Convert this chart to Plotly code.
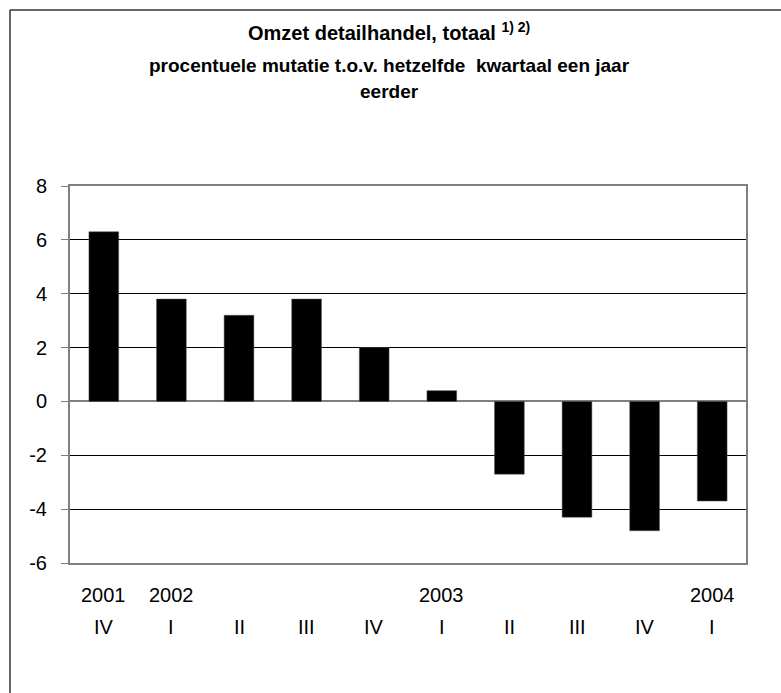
import plotly.graph_objects as go

# Data
categories = ["2001-IV", "2002-I", "2002-II", "2002-III", "2002-IV",
              "2003-I", "2003-II", "2003-III", "2003-IV", "2004-I"]
years = ["2001", "2002", "", "", "", "2003", "", "", "", "2004"]
quarters = ["IV", "I", "II", "III", "IV", "I", "II", "III", "IV", "I"]
values = [6.3, 3.8, 3.2, 3.8, 2.0, 0.4, -2.7, -4.3, -4.8, -3.7]
y_ticks = [-6, -4, -2, 0, 2, 4, 6, 8]
y_ticklabels = [str(v) for v in y_ticks]

W, H = 781, 693
L, R, T, B = 70, 35, 186, 130
plot_w = W - L - R
plot_h = H - T - B

FONT = "Liberation Sans, Arial, sans-serif"

fig = go.Figure()
fig.add_trace(go.Bar(
    x=categories, y=values,
    marker=dict(color="black", line=dict(color="#555555", width=0.5)),
    hoverinfo="x+y",
))

def px_to_paper_x(px):
    return (px - L) / plot_w

def px_to_paper_y(py):
    return (H - B - py) / plot_h

annotations = []
tx = px_to_paper_x(389)
annotations.append(dict(text="<b>Omzet detailhandel, totaal <sup>1) 2)</sup></b>", x=tx, y=px_to_paper_y(32),
                        xref="paper", yref="paper", showarrow=False, xanchor="center", yanchor="middle",
                        font=dict(family=FONT, size=20, color="black")))
annotations.append(dict(text="<b>procentuele mutatie t.o.v. hetzelfde  kwartaal een jaar</b>", x=tx, y=px_to_paper_y(65),
                        xref="paper", yref="paper", showarrow=False, xanchor="center", yanchor="middle",
                        font=dict(family=FONT, size=19, color="black")))
annotations.append(dict(text="<b>eerder</b>", x=tx, y=px_to_paper_y(92),
                        xref="paper", yref="paper", showarrow=False, xanchor="center", yanchor="middle",
                        font=dict(family=FONT, size=19, color="black")))

# Two-row category labels
for c, yr, q in zip(categories, years, quarters):
    if yr:
        annotations.append(dict(text=yr, x=c, y=px_to_paper_y(595), xref="x", yref="paper",
                                showarrow=False, xanchor="center", yanchor="middle",
                                font=dict(family=FONT, size=20, color="black")))
    annotations.append(dict(text=q, x=c, y=px_to_paper_y(627), xref="x", yref="paper",
                            showarrow=False, xanchor="center", yanchor="middle",
                            font=dict(family=FONT, size=20, color="black")))

shapes = [
    dict(type="line", xref="paper", yref="paper",
         x0=px_to_paper_x(10), x1=px_to_paper_x(790), y0=px_to_paper_y(10), y1=px_to_paper_y(10),
         line=dict(color="#333333", width=1.5)),
    dict(type="line", xref="paper", yref="paper",
         x0=px_to_paper_x(10), x1=px_to_paper_x(10), y0=px_to_paper_y(10), y1=px_to_paper_y(700),
         line=dict(color="#333333", width=1.5)),
]

fig.update_layout(
    width=W, height=H,
    margin=dict(l=L, r=R, t=T, b=B, pad=0),
    paper_bgcolor="white", plot_bgcolor="white",
    showlegend=False,
    bargap=0.56,
    annotations=annotations,
    shapes=shapes,
    font=dict(family=FONT, size=20, color="black"),
    xaxis=dict(showticklabels=False, showline=True, mirror=True, linecolor="#808080", linewidth=2,
               ticks="", showgrid=False, zeroline=False, fixedrange=True),
    yaxis=dict(range=[-6, 8], tickvals=y_ticks, ticktext=y_ticklabels, showline=True, mirror=True,
               linecolor="#808080", linewidth=2, ticks="outside", ticklen=7, tickcolor="#808080",
               tickwidth=1, showgrid=True, gridcolor="black", gridwidth=1,
               zeroline=True, zerolinecolor="#808080", zerolinewidth=2,
               tickfont=dict(family=FONT, size=20, color="black"), ticklabelstandoff=10),
)

fig.write_html("out.html", config={"displayModeBar": False},
               post_script="document.body.style.margin='0px';")
